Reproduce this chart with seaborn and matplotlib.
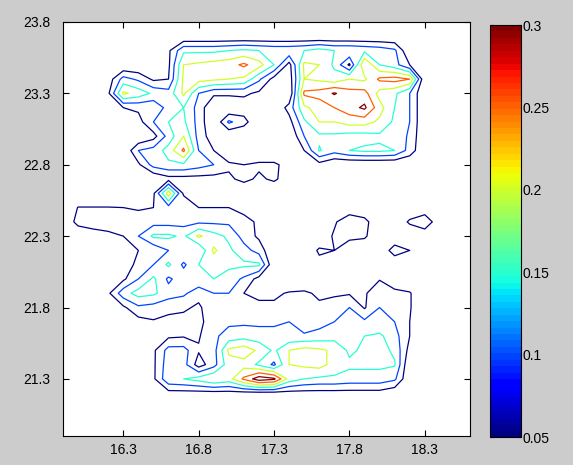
import numpy as np
import matplotlib
matplotlib.use("Agg")
import matplotlib.pyplot as plt
import seaborn as sns

# grid of the field (values in hundredths), rows from north to south,
# columns from lon 16.0 to 18.5; a zero column is added at lon 15.9
lon = np.round(np.arange(15.9, 18.55, 0.1), 1)
lat = np.round(np.arange(23.7, 21.05, -0.1), 1)

r00 = [0] * 26
r01 = [0, 0, 0, 0, 0, 0, 4, 14, 14, 14, 15, 16, 15, 14, 14, 15, 17, 15, 15, 14, 13, 11, 0, 0, 0, 0]
r02 = [0, 0, 0, 0, 0, 0, 4, 20, 21, 22, 23, 26, 22, 15, 3, 21, 20, 14, 4, 25, 15, 12, 5, 0, 0, 0]
r03 = [0, 0, 2, 12, 9, 4, 5, 21, 22, 21, 20, 19, 11, 3, 2, 20, 19, 17, 20, 19, 26, 27, 25, 0, 0, 0]
r04 = [0, 0, 4, 21, 18, 14, 12, 21, 10, 6, 6, 6, 4, 0, 0, 26, 27, 30.5, 27, 27, 18, 16, 10, 0, 0, 0]
r05 = [0, 0, 2, 5, 6, 6, 12, 15, 8, 0, 0, 2, 0, 0, 7, 19, 22, 25, 28, 31, 22, 15, 10, 0, 0, 0]
r06 = [0, 0, 0, 0, 3, 10, 15, 16, 8, 0, 11, 7, 0, 0, 3, 14, 20, 20, 22, 22, 19, 14, 10, 0, 0, 0]
r07 = [0, 0, 0, 0, 0, 3, 12, 20, 8, 2, 0, 0, 0, 0, 0, 10, 14, 14, 13, 13, 14, 14, 9, 0, 0, 0]
r08 = [0, 0, 0, 0, 10, 12, 17, 26, 10, 5, 0, 0, 0, 0, 0, 5, 15.5, 12, 15, 16, 16, 15, 8, 0, 0, 0]
r09 = [0, 0, 0, 0, 4, 12, 14, 14, 12, 10, 6, 5, 6, 6, 3, 0, 3, 0, 0, 0, 0, 0, 0, 0, 0, 0]
r10 = [0, 0, 0, 0, 0, 0, 3, 3, 3, 3, 4, 6.5, 4, 6, 2, 0, 0, 0, 0, 0, 0, 0, 0, 0, 0, 0]
r11 = [0, 0, 0, 0, 0, 4, 23, 4, 0, 0, 0, 0, 0, 0, 0, 0, 0, 0, 0, 0, 0, 0, 0, 0, 0, 0]
r12 = [5.2, 5.2, 5.2, 5, 4.5, 5, 8, 10, 5, 5, 5, 3, 0, 0, 0, 0, 0, 0, 0, 0, 0, 0, 0, 0, 0, 0]
r13 = [7, 7, 7, 7, 7, 8, 8, 8, 9, 9, 9, 7, 4, 0, 0, 0, 0, 4, 10, 7, 0, 0, 6, 10, 0, 0]
r14 = [0, 3, 4, 5, 10, 16, 16, 14, 21, 17, 14, 8, 4, 0, 0, 0, 0, 6, 7, 6, 0, 0, 0, 0, 0, 0]
r15 = [0, 0, 0, 3, 5, 6, 10, 15, 10, 21, 16, 12, 8, 0, 0, 0, 6, 5, 0, 0, 0, 8, 5, 0, 0, 0]
r16 = [0, 0, 0, 3, 6, 10, 16, 9, 15, 17, 16, 16, 16, 0, 0, 0, 3, 0, 0, 0, 0, 0, 0, 0, 0, 0]
r17 = [0, 0, 0, 4, 10, 16, 9, 13, 14, 15, 13, 9, 3, 0, 0, 0, 0, 0, 0, 0, 4.5, 0, 0, 0, 0, 0]
r18 = [0, 0, 4, 13, 17, 16, 12, 11, 7, 10, 10, 5, 4, 4, 5.5, 6, 4, 4, 4.5, 4, 10, 7, 5.5, 0, 0, 0]
r19 = [0, 0, 0, 4, 9, 8, 7, 6, 4, 9, 8, 6, 6, 6, 9, 5, 6, 8, 10, 4.5, 10, 7, 5.5, 0, 0, 0]
r20 = [0, 0, 0, 0, 3, 4.5, 3, 3, 3, 9, 9, 9, 9, 9, 10, 6, 8, 10, 12, 11, 11, 10, 5, 0, 0, 0]
r21 = [0, 0, 0, 0, 0, 2, 4, 4.5, 4.5, 9, 12, 13, 12, 12, 11, 11, 12, 13, 15, 15, 16, 12, 5, 0, 0, 0]
r22 = [0, 0, 0, 0, 0, 4, 12, 12, 5.5, 8, 21, 23, 19, 14, 20, 22, 21, 19, 14, 16, 17, 14, 3, 0, 0, 0]
r23 = [0, 0, 0, 0, 0, 4, 13, 12, 2.5, 8, 18, 18, 14, 9, 20, 21, 22, 18, 16, 16, 16, 15.5, 0, 0, 0, 0]
r24 = [0, 0, 0, 0, 0, 4, 14, 15, 17, 20, 18, 26, 33, 31, 18, 15, 14, 14, 13, 13, 13, 11, 0, 0, 0, 0]
r25 = [0, 0, 0, 0, 0, 0, 3, 3, 3, 3, 3, 3, 3, 3, 3, 3, 3, 3, 3, 3, 3, 1, 0, 0, 0, 0]
r26 = [0] * 26

rows = [r00, r01, r02, r03, r04, r05, r06, r07, r08, r09, r10, r11, r12, r13,
        r14, r15, r16, r17, r18, r19, r20, r21, r22, r23, r24, r25, r26]
field = np.pad(np.array(rows, dtype=float) / 100.0, ((0, 0), (1, 0)))

levels = [0.05, 0.1, 0.15, 0.2, 0.25, 0.3]
xticks = [16.3, 16.8, 17.3, 17.8, 18.3]
yticks = [21.3, 21.8, 22.3, 22.8, 23.3, 23.8]
cbticks = [0.05, 0.1, 0.15, 0.2, 0.25, 0.3]
cblabels = ["0.05", "0.1", "0.15", "0.2", "0.25", "0.3"]

sns.set_theme(style="ticks")
plt.rcParams['font.family'] = ['Liberation Sans', 'DejaVu Sans']

W, H = 573, 465
fig = plt.figure(figsize=(W / 100, H / 100), dpi=100, facecolor='#cccccc')
ax = fig.add_axes([63 / W, (H - 436) / H, (470 - 63) / W, (436 - 22) / H])
ax.set_facecolor('white')

# MATLAB-like 64 step jet
cmap = matplotlib.colormaps['jet'].resampled(64)
norm = plt.Normalize(0.05, 0.3)
ax.contour(lon, lat, field, levels=levels, cmap=cmap, norm=norm, linewidths=0.9)

ax.set_xlim(15.9, 18.6)
ax.set_ylim(20.9, 23.8)
ax.set_xticks(xticks)
ax.set_yticks(yticks)
ax.set_xticklabels([f"{t:.1f}" for t in xticks])
ax.set_yticklabels([f"{t:.1f}" for t in yticks])
ax.tick_params(direction='in', top=True, right=True, length=4, width=0.8,
               labelsize=10, colors='black')
ax.tick_params(axis='x', pad=5)
ax.tick_params(axis='y', pad=9)
for s in ax.spines.values():
    s.set_color('black')
    s.set_linewidth(0.8)

cax = fig.add_axes([490 / W, (H - 437) / H, 31 / W, (437 - 25) / H])
sm = matplotlib.cm.ScalarMappable(norm=norm, cmap=cmap)
cb = fig.colorbar(sm, cax=cax)
cb.set_ticks(cbticks)
cb.set_ticklabels(cblabels)
cax.tick_params(direction='in', left=True, right=True, length=3, width=0.8,
                labelsize=10, colors='black', pad=1)
cb.outline.set_edgecolor('black')
cb.outline.set_linewidth(0.8)

fig.savefig("out.png", dpi=100, facecolor=fig.get_facecolor())
